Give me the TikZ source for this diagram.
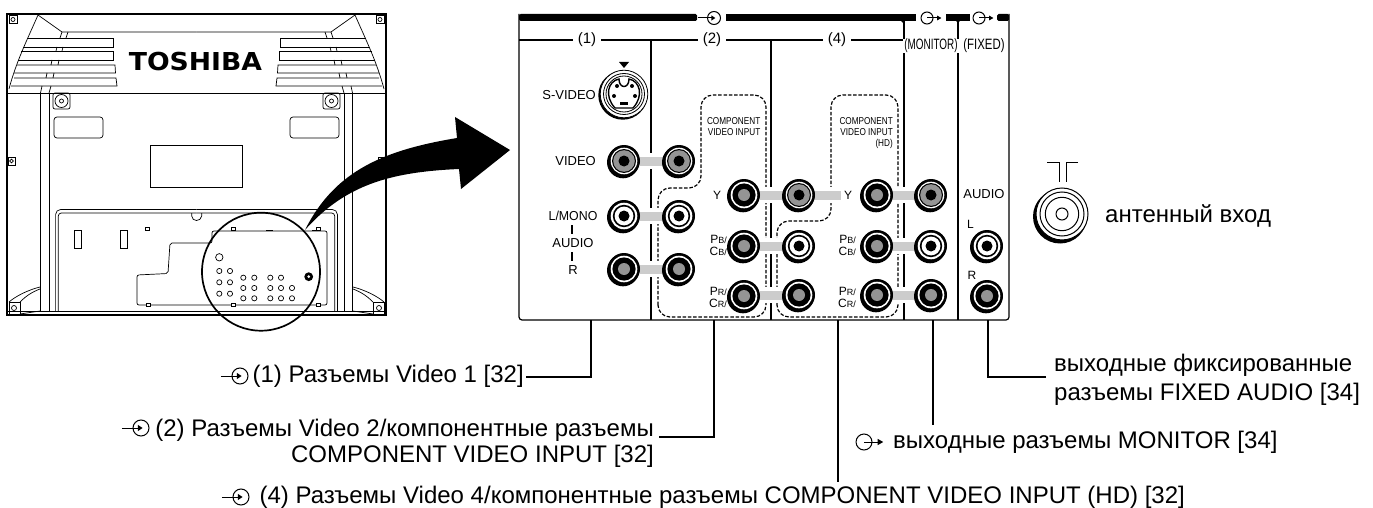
\documentclass[tikz,border=0pt]{standalone}
\usepackage{fontspec}
\setmainfont{Liberation Sans}
\newfontfamily\logofont{DejaVu Sans}
\usetikzlibrary{calc}

\tikzset{
  thinline/.style={line width=0.7pt},
  panel/.style={line width=1.2pt},
  leader/.style={line width=1.7pt},
  lab/.style={font=\fontsize{24}{26}\selectfont, inner sep=1pt},
  paneltxt/.style={font=\fontsize{13}{13}\selectfont, inner sep=0pt},
  headtxt/.style={font=\fontsize{15}{15}\selectfont, inner sep=0pt, fill=white},
  tiny/.style={font=\fontsize{10}{11}\selectfont, inner sep=0pt, align=right},
  pbtxt/.style={font=\fontsize{12}{12.5}\selectfont, inner sep=0pt, align=right, anchor=east},
  comp/.style={line width=1.2pt, dash pattern=on 3.5pt off 1.8pt},
}

% Jacks, all with a shadow to the lower left
\newcommand{\jackbase}[2]{
  \fill (#1-1,#2+1.3) circle (16);
  \fill (#1,#2) circle (16);
  \fill[white] (#1,#2) circle (13.3);
}
\newcommand{\jackgray}[2]{
  \jackbase{#1}{#2}
  \fill (#1,#2) circle (12);
  \fill[black!42] (#1,#2) circle (10.8);
  \fill (#1,#2) circle (5.5);
}
\newcommand{\jackwhite}[2]{
  \jackbase{#1}{#2}
  \fill (#1,#2) circle (11.2);
  \fill[white] (#1,#2) circle (9.4);
  \fill (#1,#2) circle (5.5);
}
\newcommand{\jackdark}[2]{
  \jackbase{#1}{#2}
  \fill (#1,#2) circle (11.6);
  \fill[black!42] (#1,#2) circle (6);
}

% Grey link between two jacks, with a white gap around it
\newcommand{\linkbar}[3]{
  \fill[white] (#1,#3-8) rectangle (#2,#3+8);
  \fill[black!20] (#1,#3-4.5) rectangle (#2,#3+4.5);
}

% Input and output signs
\newcommand{\insign}[3]{
  \draw[line width=1pt] (#1,#2) circle (#3);
  \draw[line width=1pt] (#1-2.4*#3,#2) -- (#1,#2);
  \fill (#1+0.2*#3,#2) -- (#1-0.4*#3,#2-0.4*#3) -- (#1-0.4*#3,#2+0.4*#3) -- cycle;
}
\newcommand{\outsign}[3]{
  \draw[line width=1pt] (#1,#2) circle (#3);
  \draw[line width=1pt] (#1,#2) -- (#1+2*#3,#2);
  \fill (#1+2.4*#3,#2) -- (#1+1.7*#3,#2-0.4*#3) -- (#1+1.7*#3,#2+0.4*#3) -- cycle;
}

\begin{document}
\begin{tikzpicture}[x=1pt,y=-1pt]
\useasboundingbox (0,0) rectangle (1373,508);

% Back of the set
\draw[line width=1.6pt] (7,14) rectangle (386,315);
\draw[thinline] (7,93) -- (386,93);
\draw[thinline] (7,311) -- (386,311);
\draw[thinline] (150,145.5) rectangle (242.5,187.5);

% Left half, then its mirror image
\foreach \m/\o in {1/0,-1/393} {
  \begin{scope}[shift={(\o,0)},xscale=\m,thinline]
    % grille
    \draw (38,15) .. controls (28,38) and (16,62) .. (9,89);
    \draw (38,15) -- (62,32) -- (196.5,32);
    \draw (27,38) -- (113,38) -- (113,47) -- (23,47);
    \draw (21,51) -- (113.5,51) -- (113.5,60) -- (18,60);
    \draw (17,65) -- (115,65) -- (115.5,73) -- (14,73);
    \draw (14,78) -- (116,78) -- (117,86) -- (11,86);
    \draw (62,32) -- (60,38) (68,32) -- (66,38);
    \draw (57,47) -- (56,51) (63,47) -- (62,51);
    \draw (52,60) -- (51,65) (59,60) -- (58,65);
    \draw (47,73) -- (46,78) (54,73) -- (53,78);
    \draw (42,86) -- (40.5,93) (51,86) -- (49,93);
    % columns
    \draw (40.5,93) -- (40.5,311) (49,93) -- (49,311);
    % mounts
    \draw[rounded corners=2] (53,93) rectangle (70,109);
    \draw (61.5,101) circle (6.5);
    \draw (61.5,101) circle (2);
    \draw[rounded corners=3] (54,117) rectangle (103,138);
    % corner screws
    \draw (9,15) rectangle (17,23);
    \draw (13,19.5) circle (2);
    \draw (8,157) rectangle (15,165);
    \draw (11.5,161) circle (1.8);
    \draw (9,302) rectangle (20,314);
    \draw (14,308) circle (2.5);
    \draw (40,287) .. controls (28,290) and (16,296) .. (9,302);
    \draw (40,289) .. controls (32,292) and (26,296) .. (20,302);
    \draw (20,314) -- (40,311);
    % recess
    \draw[rounded corners=5] (55.6,311) -- (55.6,209.5) -- (196.5,209.5);
    \draw[rounded corners=3] (58.3,311) -- (58.3,213) -- (196.5,213);
    \draw (74.5,230) rectangle (81,248.5);
    \draw (120.5,230) rectangle (127,248.5);
  \end{scope}
}
\draw[thinline] (191.7,213) -- (191.7,216) .. controls (192,222) and (201,222) .. (201.7,216) -- (201.7,213);

% Plate with its holes
\draw[thinline,fill=white,rounded corners=2] (137,275) -- (168,273.5) -- (170,243) -- (212,243) -- (212,231) -- (327,231) -- (327,305) -- (137,305) -- cycle;
\foreach \x/\y in {145.5/227,231/227,316/227,146/303,231/303,316/303}
  \draw[thinline,fill=white] (\x,\y) rectangle +(4,3.5);
\draw[thinline] (219.3,257.3) circle (3.7);
\foreach \x/\y in {219.3/271,230/271,219.3/282.3,230/282.3,219.3/293.7,230/293.7,
    243.3/277.7,254.3/277.7,270.3/277.7,281/277.7,
    243.3/288,254.3/288,270.3/288,281/288,292/288,
    243.3/298.3,254.3/298.3,270.3/298.3,281/298.3,292/298.3}
  \draw[thinline] (\x,\y) circle (2.6);
\fill (308.7,276.7) circle (4.4);
\fill[white] (308.7,276.7) circle (1.5);

\node[font=\logofont\bfseries\fontsize{24.7}{25}\selectfont, inner sep=0pt] (logo) at (195.5,62) {\scalebox{1.08}[1]{TOSHIBA}};

% Loupe and big arrow
\draw[line width=1.7pt] (261,271.7) circle (59);
\fill (305,230) .. controls (335,170) and (385,150) .. (457,138) -- (455,117) -- (510,150) -- (461,189) -- (459,169) .. controls (390,172) and (345,185) .. (305,230) -- cycle;

% Top bar
\fill[rounded corners=1.5] (519,14) rectangle (697,21);
\fill (726,14) rectangle (916,21);
\fill (946,14) rectangle (970,21);
\fill[rounded corners=1.5] (997,14) rectangle (1009,21);
\fill (903,21) circle (1.8) (958,21) circle (1.8);
\insign{714}{18}{6.5}
\outsign{927}{18}{6}
\outsign{979}{18}{6}

% Panels
\draw[panel,rounded corners=3] (519,14) -- (519,320) -- (1009,320) -- (1009,14);
\draw[panel,rounded corners=3] (519,40) -- (904,40);
\foreach \x in {651,771}
  \draw[panel] (\x,40) -- (\x,320);
\foreach \x in {904,958}
  \draw[panel] (\x,21) -- (\x,320);
\node[headtxt,inner xsep=5pt] (head1) at (587,40) {(1)};
\node[headtxt,inner xsep=5pt] (head2) at (712,40) {(2)};
\node[headtxt,inner xsep=5pt] (head4) at (837,40) {(4)};
\node[headtxt,inner xsep=1pt] (headm) at (931,46) {\scalebox{.66}[1]{(MONITOR)}};
\node[headtxt,inner xsep=1pt] (headf) at (984,46) {\scalebox{.76}[1]{(FIXED)}};

% Dashed areas
\draw[comp,rounded corners=12] (658,317) -- (658,188) -- (701,188) -- (701,95) -- (766,95) -- (766,317) -- cycle;
\draw[comp,rounded corners=12] (777,317) -- (777,221) -- (831,221) -- (831,95) -- (898,95) -- (898,317) -- cycle;

% Links
\foreach \y in {161,216,269} {
  \linkbar{640}{665}{\y}
}
\foreach \y in {195,246,295} {
  \linkbar{760}{784}{\y}
  \linkbar{892}{917}{\y}
}
\linkbar{812}{841}{195}

% S-video socket
\fill (622.8,95.2) circle (24.5);
\fill[white] (624,94) circle (23.8);
\draw[line width=0.8pt] (624,94) circle (23.8);
\draw[line width=0.8pt] (624,94) circle (20.5);
\draw[line width=0.8pt] (624,94) circle (18);
\draw[line width=1.4pt] (629,79) .. controls (640,81) and (644,96) .. (633,108) -- (615,108) .. controls (604,96) and (608,81) .. (619,79) .. controls (619,89) and (629,89) .. (629,79) -- cycle;
\foreach \x/\y in {617/86,632/86,614/96,635/96}
  \fill (\x,\y) circle (2);
\fill (620,102.5) rectangle (628,105.5);
\fill (619,62) -- (629,62) -- (624,68) -- cycle;

% Jacks
\foreach \x/\y in {624/161,679/161,799/195,931/195} {
  \jackgray{\x}{\y}
}
\foreach \x/\y in {624/216,679/216,799/246,931/246,987/246} {
  \jackwhite{\x}{\y}
}
\foreach \x/\y in {624/269,679/269,744/195,744/246,744/296,799/295,877/195,877/246,877/295,931/295,987/296} {
  \jackdark{\x}{\y}
}

% Panel texts
\node[paneltxt,anchor=east] (svideo) at (596,95) {S-VIDEO};
\node[paneltxt,anchor=east] (video) at (596,161) {VIDEO};
\node[paneltxt] (lmono) at (573,216) {\scalebox{.95}[1]{L/MONO}};
\node[paneltxt] (audio1) at (573,243) {AUDIO};
\node[paneltxt] (rr) at (573,270) {R};
\draw[panel] (572,225) -- (572,234);
\draw[panel] (572,252) -- (572,261);
\node[tiny,anchor=north east] (comp2) at (760.5,117) {\scalebox{.82}[1]{COMPONENT}\\\scalebox{.82}[1]{VIDEO INPUT}};
\node[tiny,anchor=north east] (comp4) at (893,117) {\scalebox{.82}[1]{COMPONENT}\\\scalebox{.82}[1]{VIDEO INPUT}\\\scalebox{.82}[1]{(HD)}};
\node[paneltxt,font=\fontsize{12}{12}\selectfont] (y2) at (717,195) {Y};
\node[paneltxt,font=\fontsize{12}{12}\selectfont] (y4) at (848,195) {Y};
\node[pbtxt] (pb2) at (727,245.5) {P{\fontsize{9}{9}\selectfont B/}\\C{\fontsize{9}{9}\selectfont B/}};
\node[pbtxt] (pr2) at (727,297.5) {P{\fontsize{9}{9}\selectfont R/}\\C{\fontsize{9}{9}\selectfont R/}};
\node[pbtxt] (pb4) at (856,245.5) {P{\fontsize{9}{9}\selectfont B/}\\C{\fontsize{9}{9}\selectfont B/}};
\node[pbtxt] (pr4) at (856,297.5) {P{\fontsize{9}{9}\selectfont R/}\\C{\fontsize{9}{9}\selectfont R/}};
\node[paneltxt] (audio2) at (984,194) {AUDIO};
\node[paneltxt,font=\fontsize{12}{12}\selectfont] (ll) at (970.5,224) {L};
\node[paneltxt,font=\fontsize{12}{12}\selectfont] (rr2) at (972,275) {R};

% Aerial socket
\draw[line width=1pt] (1047,162) -- (1059,162) -- (1059,182);
\draw[line width=1pt] (1078,162) -- (1066,162) -- (1066,182);
\fill (1060,216.5) circle (27);
\fill[white] (1062,214) circle (26);
\draw[line width=1pt] (1062,214) circle (26);
\draw[line width=1pt] (1062,214) circle (22);
\draw[line width=1pt] (1062,214) circle (16.7);
\draw[line width=1pt] (1062,214) circle (6);
\node[lab,anchor=west] (aerial) at (1104,216) {антенный вход};

% Labels
\node[lab,anchor=east] (lab1) at (525,376) {(1) Разъемы Video 1 [32]};
\node[lab,anchor=north east,align=right] (lab2) at (655,418) {(2) Разъемы Video 2/компонентные разъемы\\COMPONENT VIDEO INPUT [32]};
\node[lab,anchor=east] (lab4) at (1186,497) {(4) Разъемы Video 4/компонентные разъемы COMPONENT VIDEO INPUT (HD) [32]};
\node[lab,anchor=west] (labm) at (892,442) {выходные разъемы MONITOR [34]};
\node[lab,anchor=north west,align=left] (labf) at (1053,353) {выходные фиксированные\\[3pt]разъемы FIXED AUDIO [34]};
\insign{240}{376}{8}
\insign{141}{428}{8}
\insign{241}{497}{8}
\outsign{864}{442}{8}

% Leaders
\coordinate (p1) at (591,320);
\coordinate (p2) at (714,320);
\coordinate (p4) at (838,320);
\coordinate (pm) at (933,320);
\coordinate (pf) at (988,320);
\draw[leader] (lab1.east) ++(1,1) -| (p1);
\draw[leader] (lab2.north east) ++(4,19) -| (p2);
\draw[leader] (p4) -- (838,482);
\draw[leader] (pm) -- (933,425);
\draw[leader] (labf.north west) ++(-7,24) -| (pf);

\end{tikzpicture}
\end{document}
